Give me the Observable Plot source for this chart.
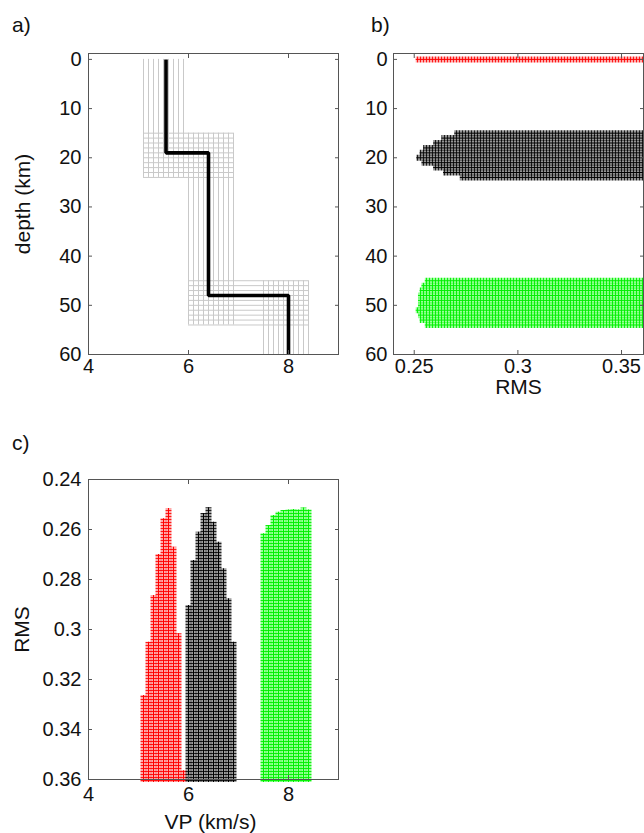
<!DOCTYPE html>
<html><head><meta charset="utf-8">
<script src="https://cdn.jsdelivr.net/npm/d3@7"></script>
<script src="https://cdn.jsdelivr.net/npm/@observablehq/plot@0.6"></script>
<style>
body{margin:0;background:#fff;font-family:"Liberation Sans",Arial,sans-serif;}
#root{position:relative;width:644px;height:833px;overflow:hidden;background:#fff}
.panel{position:absolute}
.tag{position:absolute;font-size:21px;line-height:21px;color:#111}
</style></head><body>
<svg width="0" height="0" style="position:absolute">
<defs>
 <pattern id="hR" width="6" height="3" patternUnits="userSpaceOnUse"><rect width="6" height="3" fill="#ff0000" fill-opacity="0.33"/><rect width="6" height="1" fill="#ff0000" fill-opacity="0.85"/></pattern>
 <pattern id="hK" width="6" height="3" patternUnits="userSpaceOnUse"><rect width="6" height="3" fill="#000" fill-opacity="0.38"/><rect width="6" height="1" fill="#000" fill-opacity="0.8"/></pattern>
 <pattern id="hG" width="6" height="3" patternUnits="userSpaceOnUse"><rect width="6" height="3" fill="#00ff00" fill-opacity="0.4"/><rect width="6" height="1" fill="#00f000" fill-opacity="0.9"/></pattern>
 <pattern id="vR" width="3" height="6" patternUnits="userSpaceOnUse"><rect width="3" height="6" fill="#ff0000" fill-opacity="0.33"/><rect width="1" height="6" fill="#ff0000" fill-opacity="0.85"/></pattern>
 <pattern id="vK" width="3" height="6" patternUnits="userSpaceOnUse"><rect width="3" height="6" fill="#000" fill-opacity="0.42"/><rect width="1" height="6" fill="#000" fill-opacity="0.8"/></pattern>
 <pattern id="vG" width="3" height="6" patternUnits="userSpaceOnUse"><rect width="3" height="6" fill="#00ff00" fill-opacity="0.4"/><rect width="1" height="6" fill="#00f000" fill-opacity="0.9"/></pattern>
</defs></svg>
<div id="root">
 <div class="tag" style="left:12px;top:14px">a)</div>
 <div class="tag" style="left:371px;top:14px">b)</div>
 <div class="tag" style="left:12px;top:432px">c)</div>
</div>
<script>
// ---- panel a: model parameter grid (km/s, km)
const v1 = [5.1, 5.2, 5.3, 5.4, 5.5, 5.6, 5.7, 5.8, 5.9];
const h1 = [15, 16, 17, 18, 19, 20, 21, 22, 23, 24];
const v2 = [6.0, 6.1, 6.2, 6.3, 6.4, 6.5, 6.6, 6.7, 6.8, 6.9];
const h2 = [45, 46, 47, 48, 49, 50, 51, 52, 53, 54];
const v3 = [7.5, 7.6, 7.7, 7.8, 7.9, 8.0, 8.1, 8.2, 8.3, 8.4];
const bottomDepth = 60;
const trueV = [5.55, 6.4, 8.0];
const trueTop = [0, 19, 48];
const trueBottom = [19, 48, 60];

// ---- panel b: minimum RMS for each depth value
const bRedDepth = [0];
const bRedMin = [0.2524];
const bBlackMin = [0.2710, 0.2648, 0.2608, 0.2560, 0.2543, 0.2527, 0.2552, 0.2608, 0.2656, 0.2737]; // h1
const bGreenMin = [0.2568, 0.2552, 0.2543, 0.2535, 0.2535, 0.2535, 0.2524, 0.2535, 0.2543, 0.2568]; // h2

// ---- panel c: minimum RMS for each velocity value
const cRedMin = [0.3276, 0.3063, 0.2876, 0.2712, 0.2569, 0.2528, 0.2683, 0.3029, 0.3577]; // v1
const cBlackMin = [0.2916, 0.2736, 0.2623, 0.2548, 0.2525, 0.2583, 0.2663, 0.2769, 0.2889, 0.3063]; // v2
const cGreenMin = [0.2629, 0.2596, 0.2556, 0.2543, 0.2536, 0.2534, 0.2532, 0.2534, 0.2526, 0.2534]; // v3
const rmsMax = 0.36;

// ---- ticks
const xTicksV = [4, 6, 8];
const yTicksDepth = [0, 10, 20, 30, 40, 50, 60];
const xTicksRMS = [0.25, 0.3, 0.35];
const yTicksRMS = [0.24, 0.26, 0.28, 0.3, 0.32, 0.34, 0.36];

const FONT = '"Liberation Sans", Arial, sans-serif';
const FRAME = "#555";
const TICKFONT = 20;
const LABELFONT = 21;
const fmt = d => String(d);

function frameMarks(xt, yt, padX, padY) {
  const common = {label: null, stroke: FRAME, tickFormat: () => ""};
  return [
    Plot.frame({stroke: FRAME}),
    Plot.axisX(xt, {...common, anchor: "bottom", tickSize: 4, dy: -4}),
    Plot.axisX(xt, {...common, anchor: "top", tickSize: 4, dy: 4}),
    Plot.axisY(yt, {...common, anchor: "left", tickSize: 4, dx: 4}),
    Plot.axisY(yt, {...common, anchor: "right", tickSize: 4, dx: -4}),
    Plot.axisX(xt, {anchor: "bottom", tickSize: 0, tickPadding: padX, tickFormat: fmt, label: null, fontSize: TICKFONT, fill: "#111"}),
    Plot.axisY(yt, {anchor: "left", tickSize: 0, tickPadding: padY, tickFormat: fmt, label: null, fontSize: TICKFONT, fill: "#111"})
  ];
}

const style = {fontFamily: FONT, fontSize: TICKFONT + "px", color: "#111", background: "transparent", overflow: "visible"};
const gray = "#c9c9c9";

// true model polyline
const truePts = [];
trueV.forEach((v, i) => { truePts.push({v, d: trueTop[i]}); truePts.push({v, d: trueBottom[i]}); });

const A = Plot.plot({
  width: 340, height: 400, marginLeft: 88, marginRight: 2, marginTop: 53, marginBottom: 46,
  style,
  x: {domain: [4, 9], axis: null},
  y: {domain: [-1.2, 60], reverse: true, axis: null},
  marks: [
    Plot.ruleX(v1, {x: d => d, y1: 0, y2: d3.max(h1), stroke: gray, strokeWidth: 1}),
    Plot.ruleY(h1, {y: d => d, x1: d3.min(v1), x2: d3.max(v2), stroke: gray, strokeWidth: 1}),
    Plot.ruleX(v2, {x: d => d, y1: d3.min(h1), y2: d3.max(h2), stroke: gray, strokeWidth: 1}),
    Plot.ruleY(h2, {y: d => d, x1: d3.min(v2), x2: d3.max(v3), stroke: gray, strokeWidth: 1}),
    Plot.ruleX(v3, {x: d => d, y1: d3.min(h2), y2: bottomDepth, stroke: gray, strokeWidth: 1}),
    Plot.line(truePts, {x: "v", y: "d", stroke: "#000", strokeWidth: 3.6, strokeLinejoin: "miter", strokeLinecap: "butt"}),
    ...frameMarks(xTicksV, yTicksDepth, 4, 7),
    Plot.text(["depth (km)"], {frameAnchor: "left", dx: -65, rotate: -90, textAnchor: "middle", lineAnchor: "middle", fontSize: LABELFONT, fill: "#111"})
  ]
});

function rowsB(depths, mins, pat, col) {
  const data = depths.map((d, i) => ({d, m: mins[i]}));
  return [
    Plot.ruleY(data, {y: "d", x1: "m", x2: 0.3606, stroke: pat, strokeWidth: 6, insetLeft: -3, insetRight: -3}),
    Plot.ruleY(data, {y: "d", x1: "m", x2: 0.3606, stroke: col, strokeWidth: 1, insetLeft: -3, insetRight: -3})
  ];
}

const B = Plot.plot({
  width: 314, height: 400, marginLeft: 63, marginRight: 1, marginTop: 53, marginBottom: 46,
  style,
  x: {domain: [0.24, 0.3606], axis: null},
  y: {domain: [-1.2, 60], reverse: true, axis: null},
  marks: [
    ...rowsB(bRedDepth, bRedMin, "url(#vR)", "#ff0000"),
    ...rowsB(h1, bBlackMin, "url(#vK)", "#000"),
    ...rowsB(h2, bGreenMin, "url(#vG)", "#00f000"),
    ...frameMarks(xTicksRMS, yTicksDepth, 4, 6),
    Plot.text(["RMS"], {frameAnchor: "bottom", dy: 33, textAnchor: "middle", lineAnchor: "middle", fontSize: LABELFONT, fill: "#111"})
  ]
});

function colsC(vs, mins, pat, col) {
  const data = vs.map((v, i) => ({v, m: mins[i]}));
  return [
    Plot.ruleX(data, {x: "v", y1: "m", y2: rmsMax, stroke: pat, strokeWidth: 6, insetTop: -3, insetBottom: -3}),
    Plot.ruleX(data, {x: "v", y1: "m", y2: rmsMax, stroke: col, strokeWidth: 1, insetTop: -3, insetBottom: -3})
  ];
}

const C = Plot.plot({
  width: 340, height: 413, marginLeft: 88, marginRight: 2, marginTop: 59, marginBottom: 54,
  style,
  x: {domain: [4, 9], axis: null},
  y: {domain: [0.24, 0.36], reverse: true, axis: null},
  marks: [
    ...colsC(v1, cRedMin, "url(#hR)", "#ff0000"),
    ...colsC(v2, cBlackMin, "url(#hK)", "#000"),
    ...colsC(v3, cGreenMin, "url(#hG)", "#00f000"),
    ...frameMarks(xTicksV, yTicksRMS, 7, 7),
    Plot.text(["RMS"], {frameAnchor: "left", dx: -66, rotate: -90, textAnchor: "middle", lineAnchor: "middle", fontSize: LABELFONT, fill: "#111"}),
    Plot.text(["VP (km/s)"], {frameAnchor: "bottom", dy: 43, dx: -3, textAnchor: "middle", lineAnchor: "middle", fontSize: LABELFONT, fill: "#111"})
  ]
});

const root = document.getElementById("root");
[[A, 0, 0], [B, 330, 0], [C, 0, 420]].forEach(([el, x, y]) => {
  el.classList.add("panel");
  el.style.left = x + "px";
  el.style.top = y + "px";
  root.appendChild(el);
});
</script>
</body></html>
